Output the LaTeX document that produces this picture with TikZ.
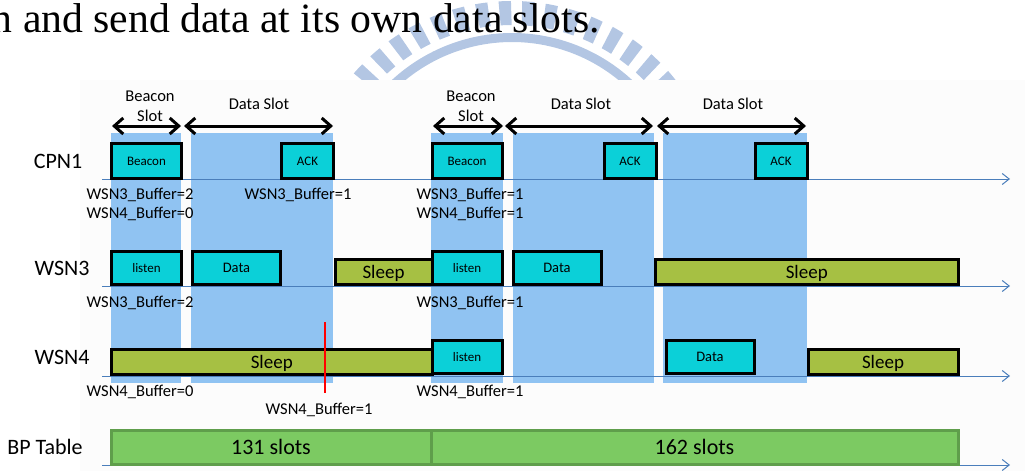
\documentclass[tikz,border=0pt]{standalone}
\usepackage{fontspec}
\setmainfont{Carlito}
\newfontfamily\bodyfont{Liberation Serif}
\usetikzlibrary{arrows.meta}
\definecolor{slotblue}{HTML}{90C3F2}
\definecolor{boxcyan}{HTML}{0BD0D8}
\definecolor{boxolive}{HTML}{A6C043}
\definecolor{tablegreen}{HTML}{7CCA62}
\definecolor{tableedge}{HTML}{5F9E4B}
\definecolor{axisblue}{HTML}{4A7EBB}
\definecolor{logoblue}{HTML}{B3C6E3}
\definecolor{panelgray}{HTML}{FCFCFC}
\begin{document}
\begin{tikzpicture}[x=1pt, y=-1pt]
  \tikzstyle{active}=[rectangle, draw=black, fill=boxcyan, line width=3pt, inner sep=0pt, minimum height=33pt, font=\fontsize{13}{13}\selectfont, align=center]
  \tikzstyle{sleeping}=[rectangle, draw=black, fill=boxolive, line width=3pt, inner sep=0pt, minimum height=25pt, text height=16pt, text depth=4pt, font=\fontsize{19}{19}\selectfont, align=center]
  \tikzstyle{table}=[rectangle, draw=tableedge, fill=tablegreen, line width=3pt, inner sep=0pt, minimum height=34pt, font=\fontsize{22}{22}\selectfont, align=center]
  \tikzstyle{slotband}=[rectangle, fill=slotblue, inner sep=0pt, minimum height=250pt]
  \tikzstyle{rowname}=[inner sep=0pt, font=\fontsize{22}{22}\selectfont]
  \tikzstyle{buffer}=[inner sep=0pt, font=\fontsize{16.5}{16.5}\selectfont]
  \tikzstyle{slotname}=[inner sep=0pt, font=\fontsize{16.5}{16.5}\selectfont]
  \tikzstyle{timeline}=[->, >={Straight Barb[length=7pt, width=11pt]}, draw=axisblue, line width=1pt]
  \tikzstyle{span}=[<->, >={Straight Barb[length=9pt, width=16pt]}, draw=black, line width=3pt]
  \useasboundingbox (0,0) rectangle (1030,471);

  % Logo behind the text
  \begin{scope}
    \clip (0,0) rectangle (1030,80);
    \draw[logoblue, line width=9pt] (512,210) ++(-40:172.5) arc[start angle=-40, end angle=-140, radius=172.5];
    \foreach \ang in {-139,-132.5,...,-40}
      \fill[logoblue] (512,210) ++(\ang:185) arc[start angle=\ang, end angle=\ang+3.4, radius=185] -- ++(\ang+1.7:24) arc[start angle=\ang+3.4, end angle=\ang, radius=209] -- cycle;
  \end{scope}
  \node[anchor=base east, inner sep=0pt, font=\bodyfont\fontsize{41.7}{41.7}\selectfont] (sentence) at (600,32) {n and send data at its own data slots.};
  \fill[panelgray] (80,80) rectangle (1025,471);

  % Slots
  \node[slotband, minimum width=70pt] (bandA) at (146,258) {};
  \node[slotband, minimum width=142pt] (bandB) at (262,258) {};
  \node[slotband, minimum width=72pt] (bandC) at (467,258) {};
  \node[slotband, minimum width=141pt] (bandD) at (583.5,258) {};
  \node[slotband, minimum width=144pt] (bandE) at (735,258) {};

  % Time axes
  \coordinate (cpnstart) at (102,179);
  \coordinate (cpnend) at (1010,179);
  \coordinate (wsnAstart) at (102,286);
  \coordinate (wsnAend) at (1010,286);
  \coordinate (wsnBstart) at (102,376);
  \coordinate (wsnBend) at (1010,376);
  \coordinate (bpstart) at (102,465);
  \coordinate (bpend) at (1010,465);
  \draw[timeline] (cpnstart) -- (cpnend);
  \draw[timeline] (wsnAstart) -- (wsnAend);
  \draw[timeline] (wsnBstart) -- (wsnBend);
  \draw[timeline] (bpstart) -- (bpend);

  % Slot widths
  \coordinate (spanAl) at (112,126);
  \coordinate (spanAr) at (181,126);
  \coordinate (spanBl) at (184,126);
  \coordinate (spanBr) at (333,126);
  \coordinate (spanCl) at (433,126);
  \coordinate (spanCr) at (503,126);
  \coordinate (spanDl) at (505,126);
  \coordinate (spanDr) at (653,126);
  \coordinate (spanEl) at (657,126);
  \coordinate (spanEr) at (806,126);
  \draw[span] (spanAl) -- (spanAr);
  \draw[span] (spanBl) -- (spanBr);
  \draw[span] (spanCl) -- (spanCr);
  \draw[span] (spanDl) -- (spanDr);
  \draw[span] (spanEl) -- (spanEr);
  \node[slotname] (beaconslotA) at (150,96) {Beacon};
  \node[slotname] (slotwordA) at (150,116) {Slot};
  \node[slotname] (dataslotA) at (259,104) {Data Slot};
  \node[slotname] (beaconslotB) at (471,96) {Beacon};
  \node[slotname] (slotwordB) at (471,116) {Slot};
  \node[slotname] (dataslotB) at (581,104) {Data Slot};
  \node[slotname] (dataslotC) at (733,104) {Data Slot};

  % CPN1
  \node[rowname] (cpn) at (58,161) {CPN1};
  \node[active, minimum width=70pt, minimum height=35pt] (beaconA) at (146.5,161) {Beacon};
  \node[active, minimum width=52pt, minimum height=35pt] (ackA) at (307.5,161) {ACK};
  \node[active, minimum width=70pt, minimum height=35pt] (beaconB) at (467,161) {Beacon};
  \node[active, minimum width=52pt, minimum height=35pt] (ackB) at (630,161) {ACK};
  \node[active, minimum width=52pt, minimum height=35pt] (ackC) at (781,161) {ACK};
  \node[buffer] (cpnbufA) at (140,194.5) {WSN3\_Buffer=2};
  \node[buffer] (cpnbufB) at (140,213.5) {WSN4\_Buffer=0};
  \node[buffer] (cpnbufC) at (298,194.5) {WSN3\_Buffer=1};
  \node[buffer] (cpnbufD) at (470,194.5) {WSN3\_Buffer=1};
  \node[buffer] (cpnbufE) at (470,213.5) {WSN4\_Buffer=1};

  % WSN3
  \node[rowname] (wsnA) at (62,268) {WSN3};
  \node[sleeping, minimum width=97pt] (sleepA) at (383.5,272) {Sleep};
  \node[sleeping, minimum width=302.5pt] (sleepB) at (806.75,272) {Sleep};
  \node[active, minimum width=70pt] (listenA) at (146.5,268) {listen};
  \node[active, minimum width=88pt, font=\fontsize{14.5}{14.5}\selectfont] (dataA) at (236.5,268) {Data};
  \node[active, minimum width=70pt] (listenB) at (467,268) {listen};
  \node[active, minimum width=88pt, font=\fontsize{14.5}{14.5}\selectfont] (dataB) at (557,268) {Data};
  \node[buffer] (wsnAbufA) at (140,302.5) {WSN3\_Buffer=2};
  \node[buffer] (wsnAbufB) at (470,302.5) {WSN3\_Buffer=1};

  % WSN4
  \node[rowname] (wsnB) at (62,357) {WSN4};
  \node[sleeping, minimum width=320.5pt] (sleepC) at (271.75,362) {Sleep};
  \node[sleeping, minimum width=150pt] (sleepD) at (883,362) {Sleep};
  \node[active, minimum width=70pt] (listenC) at (467,357) {listen};
  \node[active, minimum width=88pt, font=\fontsize{14.5}{14.5}\selectfont] (dataC) at (710,357) {Data};
  \node[buffer] (wsnBbufA) at (140,391.5) {WSN4\_Buffer=0};
  \node[buffer] (wsnBbufB) at (470,391.5) {WSN4\_Buffer=1};
  \node[buffer] (wsnBbufC) at (319,409.5) {WSN4\_Buffer=1};
  \coordinate (marktop) at (325,322);
  \coordinate (markbottom) at (325,393);
  \draw[red, line width=2pt] (marktop) -- (markbottom);

  % BP Table
  \node[rowname] (bp) at (45,447) {BP Table};
  \node[table, minimum width=320pt] (slotsA) at (271,447) {131 slots};
  \node[table, minimum width=527pt] (slotsB) at (694.5,447) {162 slots};
\end{tikzpicture}
\end{document}
